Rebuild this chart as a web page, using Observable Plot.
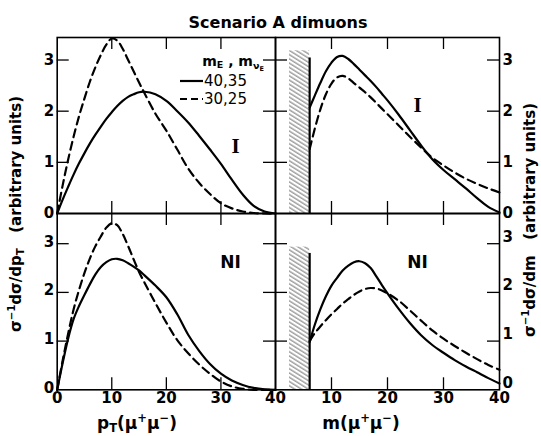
<!DOCTYPE html>
<html><head><meta charset="utf-8">
<script src="https://cdn.jsdelivr.net/npm/d3@7"></script>
<script src="https://cdn.jsdelivr.net/npm/@observablehq/plot@0.6"></script>
<style>
html,body{margin:0;padding:0;background:#fff;}
#wrap{position:relative;width:541px;height:436px;overflow:hidden;font-family:"DejaVu Sans",sans-serif;color:#000;background:#fff;}
#wrap svg.layer{position:absolute;left:0;top:0;}
.lbl{position:absolute;font-weight:bold;white-space:nowrap;line-height:1;}
.lbl sub,.lbl sup{font-size:0.68em;line-height:0;}
.lbl sub{vertical-align:-0.3em;}
.lbl sup{vertical-align:0.55em;}
.rot{transform:translate(-50%,-50%) rotate(-90deg);}
.ctr{transform:translate(-50%,-50%);}
</style></head><body><div id="wrap"></div>
<script>
// ---------- data ----------
const title = "Scenario A dimuons";
const xTickLabelsLeft = [0, 10, 20, 30, 40];
const xTickLabelsRight = [10, 20, 30, 40];
const xTickMarks = [10, 20, 30];
const yTickLabels = [0, 1, 2, 3];
const yTickMarks = [1, 2, 3];
const seriesNames = ["40,35", "30,25"]; // m_E, m_nuE

// pT distributions
const ptX = [0,1,2,3,4,5,6,7,8,9,10,11,12,13,14,15,16,18,20,22,24,26,28,30,32,34,36,38,40];
const ptI_4035 = [0,0.27,0.52,0.76,0.98,1.18,1.37,1.54,1.7,1.85,1.98,2.1,2.2,2.28,2.33,2.37,2.38,2.33,2.2,2.0,1.78,1.52,1.25,0.97,0.66,0.37,0.15,0.04,0];
const ptI_3025 = [0,0.55,1.05,1.5,1.9,2.25,2.58,2.86,3.1,3.3,3.42,3.38,3.22,3.0,2.78,2.56,2.35,1.95,1.62,1.25,0.88,0.6,0.38,0.2,0.1,0.04,0.01,0,0];
const ptNI_4035 = [0,0.55,1.05,1.45,1.72,1.95,2.17,2.37,2.52,2.62,2.68,2.69,2.66,2.6,2.53,2.45,2.35,2.14,1.9,1.55,1.13,0.8,0.53,0.33,0.19,0.1,0.04,0.01,0];
const ptNI_3025 = [0,0.6,1.15,1.65,2.05,2.4,2.7,2.95,3.15,3.33,3.42,3.38,3.2,2.95,2.68,2.42,2.2,1.78,1.38,1.02,0.75,0.52,0.33,0.17,0.07,0.02,0,0,0];

// mass distributions (above the cut)
const mX = [6.1,7,8,9,10,11,12,13,14,15,16,17,18,19,20,22,24,26,28,30,32,34,36,38,40];
const mI_4035 = [2.07,2.3,2.55,2.78,2.95,3.06,3.08,3.02,2.92,2.81,2.7,2.59,2.47,2.34,2.21,1.93,1.63,1.33,1.06,0.85,0.67,0.49,0.3,0.13,0.02];
const mI_3025 = [1.26,1.65,2.03,2.33,2.54,2.66,2.69,2.64,2.55,2.46,2.37,2.27,2.16,2.05,1.94,1.72,1.5,1.29,1.09,0.94,0.8,0.68,0.58,0.49,0.41];
const mNI_4035 = [0.98,1.33,1.65,1.92,2.14,2.3,2.45,2.55,2.62,2.64,2.6,2.5,2.33,2.15,1.98,1.66,1.37,1.12,0.92,0.76,0.61,0.48,0.36,0.24,0.13];
const mNI_3025 = [1.0,1.16,1.3,1.43,1.55,1.66,1.77,1.86,1.95,2.02,2.07,2.09,2.08,2.04,1.98,1.83,1.63,1.42,1.22,1.05,0.9,0.76,0.63,0.51,0.41];

// excluded (hatched) mass region and cut line
const cutRange = [2.5, 6.1];
const hatchTop = {I: 3.18, NI: 2.93};
const cutLineTop = {I: 3.04, NI: 2.8};
const yMax = {I: 3.44, NI: 3.62};

// ---------- drawing ----------
const W = 541, H = 436;
const FONT = '"DejaVu Sans", sans-serif';
const wrap = document.getElementById("wrap");
const zip = (xs, ys) => xs.map((x, i) => ({x, y: ys[i]}));
const fmt = d3.format("d");

function panel(o) {
  const fw = o.right - o.left, fh = o.bottom - o.top, tick = 12;
  const marks = [];
  if (o.hatch) {
    marks.push(Plot.rect([o.hatch], {x1: d => d.x1, x2: d => d.x2, y1: d => 0, y2: d => d.top, fill: `url(#${o.hatchId})`}));
    marks.push(Plot.ruleX([o.hatch], {x: d => d.x2, y1: d => 0, y2: d => d.lineTop, strokeWidth: 2.2}));
  }
  o.series.forEach((s, i) => {
    marks.push(Plot.line(zip(o.xs, s), {x: "x", y: "y", curve: "catmull-rom", strokeWidth: 2.2,
      strokeDasharray: i === 1 ? "8,5" : undefined}));
  });
  marks.push(
    Plot.ruleX(xTickMarks, {insetTop: fh - tick, strokeWidth: 1.3}),
    Plot.ruleX(xTickMarks, {insetBottom: fh - tick, strokeWidth: 1.3}),
    Plot.ruleY(yTickMarks, {insetRight: fw - tick, strokeWidth: 1.3}),
    Plot.ruleY(yTickMarks, {insetLeft: fw - tick, strokeWidth: 1.3}),
    Plot.frame({strokeWidth: 1.6})
  );
  if (o.xLabels) marks.push(Plot.axisX({anchor: "bottom", ticks: o.xLabels, tickFormat: fmt, tickSize: 0, tickPadding: 3, label: null}));
  marks.push(Plot.axisY({anchor: o.ySide, ticks: yTickLabels, tickFormat: fmt, tickSize: 0, tickPadding: 3, label: null, dy: o.yLabelDy || 0}));
  marks.push(Plot.text([o.tag], {frameAnchor: "top-right", dx: o.tagDx, dy: o.tagDy, text: d => d,
    fontSize: o.tagSize, fontWeight: "bold", fontFamily: o.tagFont, textAnchor: "middle"}));
  const svg = Plot.plot({
    width: W, height: H,
    marginLeft: o.left, marginRight: W - o.right, marginTop: o.top, marginBottom: H - o.bottom,
    x: {domain: [0, 40], axis: null},
    y: {domain: [0, o.yMax], axis: null},
    style: {background: "transparent", overflow: "visible", fontFamily: FONT, fontSize: "15px", fontWeight: "bold", color: "#000"},
    marks
  });
  svg.classList.add("layer");
  if (o.hatchId) {
    d3.select(svg).insert("defs", ":first-child").html(
      `<pattern id="${o.hatchId}" patternUnits="userSpaceOnUse" width="8" height="3.6" patternTransform="rotate(32)">
         <line x1="0" y1="1" x2="8" y2="1" stroke="#444" stroke-width="0.8"/></pattern>`);
  }
  wrap.appendChild(svg);
}

const L = 56.7, M = 275, R = 499, T = 37, C = 213, B = 389.3;
panel({left: L, right: M, top: T, bottom: C, yMax: yMax.I, xs: ptX, series: [ptI_4035, ptI_3025],
  ySide: "left", tag: "I", tagFont: '"Liberation Serif", serif', tagSize: 21, tagDx: -40, tagDy: 101});
panel({left: L, right: M, top: C, bottom: B, yMax: yMax.NI, xs: ptX, series: [ptNI_4035, ptNI_3025],
  ySide: "left", yLabelDy: -2, xLabels: xTickLabelsLeft, tag: "NI", tagFont: FONT, tagSize: 17, tagDx: -45, tagDy: 42});
panel({left: M, right: R, top: T, bottom: C, yMax: yMax.I, xs: mX, series: [mI_4035, mI_3025],
  ySide: "right", tag: "I", tagFont: '"Liberation Serif", serif', tagSize: 21, tagDx: -82, tagDy: 60,
  hatch: {x1: cutRange[0], x2: cutRange[1], top: hatchTop.I, lineTop: cutLineTop.I}, hatchId: "hatchI"});
panel({left: M, right: R, top: C, bottom: B, yMax: yMax.NI, xs: mX, series: [mNI_4035, mNI_3025],
  ySide: "right", yLabelDy: -7, xLabels: xTickLabelsRight, tag: "NI", tagFont: FONT, tagSize: 17, tagDx: -82, tagDy: 42,
  hatch: {x1: cutRange[0], x2: cutRange[1], top: hatchTop.NI, lineTop: cutLineTop.NI}, hatchId: "hatchNI"});

// ---------- text: title, axis titles, legend ----------
function addLabel(html, x, y, cls, size) {
  const d = document.createElement("div");
  d.className = "lbl " + cls;
  d.style.left = x + "px"; d.style.top = y + "px"; d.style.fontSize = size + "px";
  d.innerHTML = html;
  wrap.appendChild(d);
  return d;
}
addLabel(title, 278, 22.6, "ctr", 16);
addLabel("p<sub>T</sub>(μ<sup>+</sup>μ<sup>−</sup>)", 137, 423, "ctr", 17);
addLabel("m(μ<sup>+</sup>μ<sup>−</sup>)", 361, 423, "ctr", 17);
addLabel("σ<sup>−1</sup>dσ/dp<sub>T</sub>&nbsp;&nbsp;&nbsp;(arbitrary units)", 16, 214, "rot", 15);
addLabel("σ<sup>−1</sup>dσ/dm&nbsp;&nbsp;&nbsp;(arbitrary units)", 530, 220, "rot", 15);

// legend
addLabel("m<sub>E</sub> , m<sub>ν<sub>E</sub></sub>", 233, 61, "ctr", 14);
seriesNames.forEach((name, i) => {
  const y = 81 + i * 18;
  const key = document.createElementNS("http://www.w3.org/2000/svg", "svg");
  key.setAttribute("width", 24); key.setAttribute("height", 6);
  key.style.position = "absolute"; key.style.left = "180px"; key.style.top = (y - 3) + "px";
  key.innerHTML = `<line x1="0" y1="3" x2="23" y2="3" stroke="#000" stroke-width="2.2" ${i === 1 ? 'stroke-dasharray="7,4"' : ''}/>`;
  wrap.appendChild(key);
  const t = addLabel(name, 204, y, "", 15);
  t.style.transform = "translateY(-50%)";
  t.style.fontWeight = "normal";
});
</script></body></html>
